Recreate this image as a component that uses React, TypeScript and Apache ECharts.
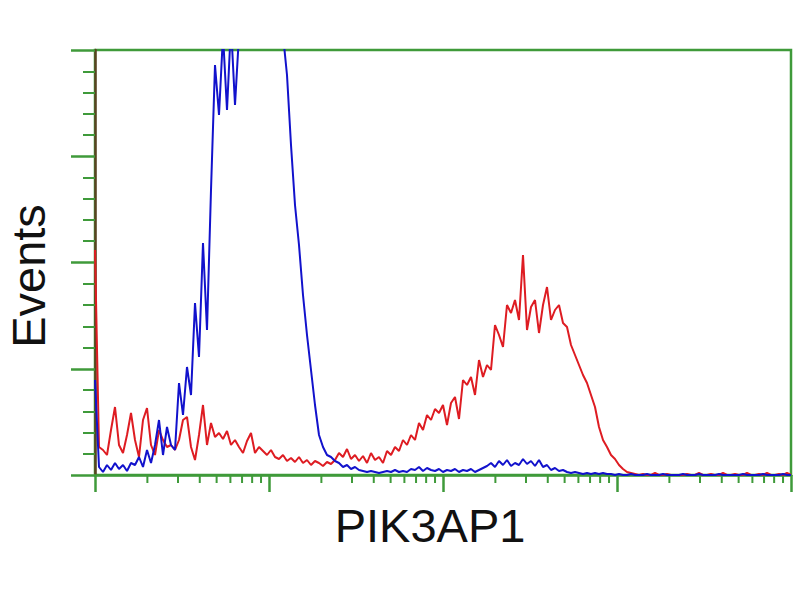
import React, { useEffect, useRef } from "react";
import * as echarts from "echarts";

// Histogram bins (4 decades, 174 bins wide). Heights in event units (axis max 425).
const BLUE_EVENTS = [
  95, 8, 3, 10, 5, 12, 6, 10, 4, 12,
  10, 18, 8, 25, 12, 30, 55, 20, 48, 30,
  25, 92, 60, 108, 80, 172, 118, 232, 145, 285,
  410, 360, 440, 365, 450, 370, 440, 500, 520, 540,
  550, 550, 540, 530, 510, 490, 470, 440, 400, 330,
  270, 230, 180, 140, 105, 70, 40, 28, 20, 18,
  14, 12, 8, 10, 6, 8, 5, 4, 3, 4,
  3, 2, 3, 4, 3, 5, 3, 4, 3, 6,
  5, 8, 4, 7, 5, 4, 6, 3, 5, 4,
  6, 3, 5, 4, 6, 3, 5, 7, 9, 12,
  8, 14, 10, 15, 9, 12, 10, 16, 11, 14,
  9, 15, 8, 10, 5, 7, 4, 5, 3, 2,
  3, 2, 1, 2, 1, 2, 1, 2, 1, 1,
  0, 1, 0, 0, 1, 0, 0, 0, 1, 0,
  0, 0, 1, 0, 0, 0, 0, 1, 0, 0,
  0, 1, 0, 0, 0, 0, 1, 0, 0, 0,
  0, 0, 1, 0, 0, 0, 0, 1, 0, 0,
  0, 0, 1, 0, 0,
];

const RED_EVENTS = [
  225, 28, 25, 20, 45, 68, 30, 22, 40, 62,
  35, 18, 55, 67, 30, 20, 45, 35, 28, 30,
  25, 35, 55, 58, 28, 15, 40, 70, 30, 52,
  38, 42, 36, 44, 30, 35, 28, 22, 34, 42,
  22, 28, 24, 20, 25, 18, 16, 20, 14, 17,
  13, 18, 12, 15, 10, 14, 12, 9, 13, 11,
  15, 22, 18, 26, 16, 20, 14, 19, 12, 22,
  15, 18, 12, 24, 20, 28, 24, 35, 30, 40,
  35, 52, 45, 60, 55, 66, 62, 70, 50, 72,
  78, 56, 95, 90, 98, 80, 115, 98, 110, 105,
  150, 140, 128, 170, 162, 175, 155, 220, 145, 168,
  175, 142, 170, 188, 155, 165, 170, 152, 148, 130,
  120, 110, 100, 92, 80, 68, 48, 35, 28, 20,
  16, 10, 6, 3, 2, 1, 0, 1, 0, 0,
  2, 0, 0, 1, 0, 0, 0, 0, 1, 0,
  0, 2, 0, 0, 1, 0, 0, 2, 0, 0,
  1, 0, 0, 2, 0, 0, 1, 0, 2, 0,
  0, 1, 0, 2, 0,
];

const BINS_PER_DECADE = 43.5;
const DECADE_COUNT = 4;
const Y_MAX = 425;
const Y_INTERVAL = 106.25;
const MINOR_MULTIPLIERS = [2, 3, 4, 5, 6, 7, 8, 9];

const X_TITLE = "PIK3AP1";
const Y_TITLE = "Events";

const GREEN = "#3f9a3a";
const LEFT_AXIS = "#5a4322";

export default function App() {
  const ref = useRef<HTMLDivElement>(null);

  useEffect(() => {
    if (!ref.current) return;
    const chart = echarts.init(ref.current, undefined, { renderer: "svg" });

    const blueData = BLUE_EVENTS.map((v, i) => [i, v]);
    const redData = RED_EVENTS.map((v, i) => [i, v]);

    const minorTicks: number[][] = [];
    for (let d = 0; d < DECADE_COUNT; d++) {
      for (const m of MINOR_MULTIPLIERS) {
        minorTicks.push([(d + Math.log10(m)) * BINS_PER_DECADE, 0]);
      }
    }

    chart.setOption({
      animation: false,
      backgroundColor: "#ffffff",
      grid: {
        left: 95,
        right: 9,
        top: 50,
        bottom: 125,
        show: true,
        borderColor: GREEN,
        borderWidth: 2.5,
        backgroundColor: "transparent",
      },
      xAxis: {
        type: "value",
        min: 0,
        max: BINS_PER_DECADE * DECADE_COUNT,
        interval: BINS_PER_DECADE,
        axisLine: { show: true, lineStyle: { color: GREEN, width: 2.5 } },
        axisTick: { show: true, length: 17, lineStyle: { color: GREEN, width: 2.5 } },
        axisLabel: { show: false },
        splitLine: { show: false },
      },
      yAxis: {
        type: "value",
        min: 0,
        max: Y_MAX,
        interval: Y_INTERVAL,
        axisLine: { show: true, lineStyle: { color: LEFT_AXIS, width: 2.5 } },
        axisTick: { show: true, length: 24, lineStyle: { color: GREEN, width: 2.5 } },
        minorTick: { show: true, splitNumber: 5, length: 12, lineStyle: { color: GREEN, width: 2 } },
        axisLabel: { show: false },
        splitLine: { show: false },
      },
      series: [
        {
          type: "custom",
          name: "minorX",
          data: minorTicks,
          silent: true,
          renderItem: (params: any, api: any) => {
            const p = api.coord([api.value(0), 0]);
            return {
              type: "line",
              shape: { x1: p[0], y1: p[1], x2: p[0], y2: p[1] + 8 },
              style: { stroke: GREEN, lineWidth: 2 },
            };
          },
          z: 1,
        },
        {
          type: "line",
          name: "red",
          data: redData,
          showSymbol: false,
          symbol: "none",
          lineStyle: { color: "#de1c22", width: 2 },
          clip: true,
          z: 3,
        },
        {
          type: "line",
          name: "blue",
          data: blueData,
          showSymbol: false,
          symbol: "none",
          lineStyle: { color: "#1212cc", width: 2 },
          clip: true,
          z: 4,
        },
      ],
      graphic: [
        {
          type: "text",
          x: 28,
          y: 276,
          rotation: Math.PI / 2,
          style: {
            text: Y_TITLE,
            font: "47px 'Liberation Sans', Arial, sans-serif",
            fill: "#111111",
            align: "center",
            verticalAlign: "middle",
          },
        },
        {
          type: "text",
          x: 430,
          y: 525,
          style: {
            text: X_TITLE,
            font: "47px 'Liberation Sans', Arial, sans-serif",
            fill: "#111111",
            align: "center",
            verticalAlign: "middle",
          },
        },
      ],
    });

    return () => chart.dispose();
  }, []);

  return (
    <div
      ref={ref}
      style={{ position: "fixed", left: 0, top: 0, width: 800, height: 600, background: "#fff" }}
    />
  );
}
